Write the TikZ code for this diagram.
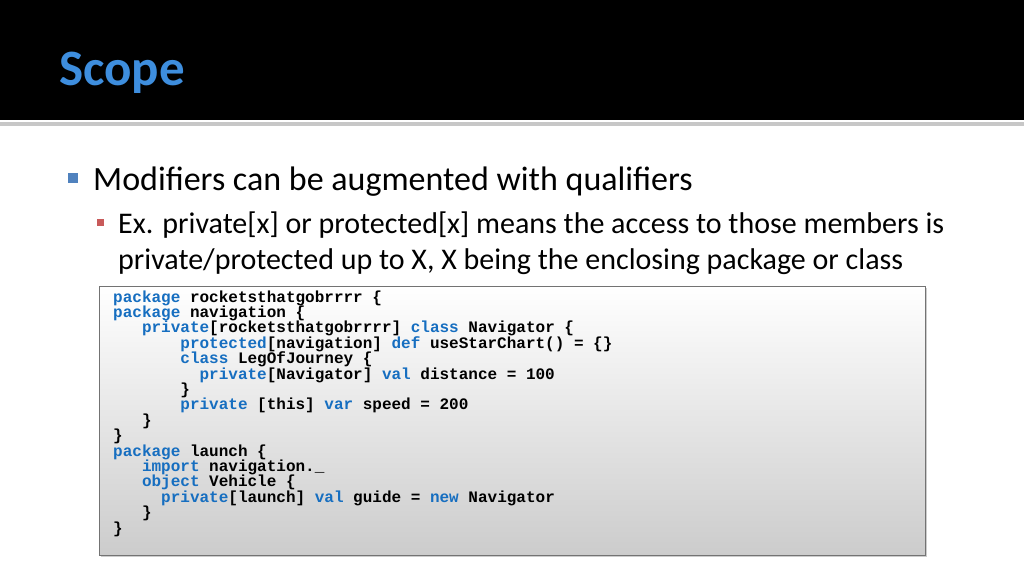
\documentclass[tikz,border=0pt]{standalone}
\usepackage{fontspec}
\setmainfont{Carlito}
\newfontfamily\codefont{Liberation Mono}
\usetikzlibrary{shadows}
\definecolor{ttl}{RGB}{62,142,222}
\definecolor{kw}{RGB}{22,110,192}
\definecolor{bl}{RGB}{80,130,190}
\definecolor{sb}{RGB}{200,90,90}
\newcommand{\kw}[1]{\textcolor{kw}{#1}}
\begin{document}
\begin{tikzpicture}[x=1pt,y=-1pt,
  codeline/.style={anchor=base west,inner sep=0pt,font=\codefont\bfseries\fontsize{16}{16}\selectfont}]
\useasboundingbox (0,0) rectangle (1024,576);
\fill[white] (0,0) rectangle (1024,576);
\fill[black] (0,0) rectangle (1024,120);
\fill[black!22] (0,122) rectangle (1024,126);
\node[anchor=base west,inner sep=0pt,text=ttl,font=\bfseries\fontsize{51}{51}\selectfont] (title) at (59,85) {Scope};
\fill[bl] (68,173) rectangle (78,183);
\node[anchor=base west,inner sep=0pt,font=\fontsize{34}{34}\selectfont] (b1) at (93,190) {Modifiers can be augmented with qualifiers};
\fill[sb] (97,219) rectangle (104,226);
\node[anchor=base west,inner sep=0pt,font=\fontsize{30}{30}\selectfont] (b2) at (118,233) {Ex. private[x] or protected[x] means the access to those members is};
\node[anchor=base west,inner sep=0pt,font=\fontsize{30}{30}\selectfont] (b3) at (118,269) {private/protected up to X, X being the enclosing package or class};
\shade[top color=white,bottom color=black!20,drop shadow={shadow xshift=2pt,shadow yshift=-2pt,opacity=0.4}] (99,286) rectangle (925,555);
\draw[black!55,line width=1pt] (99,286) rectangle (925,555);
\def\cw{9.6}
\foreach \i/\n/\t in {
 0/0/{\kw{package} rocketsthatgobrrrr \{},
 1/0/{\kw{package} navigation \{},
 2/3/{\kw{private}[rocketsthatgobrrrr] \kw{class} Navigator \{},
 3/7/{\kw{protected}[navigation] \kw{def} useStarChart() = \{\}},
 4/7/{\kw{class} LegOfJourney \{},
 5/9/{\kw{private}[Navigator] \kw{val} distance = 100},
 6/7/{\}},
 7/7/{\kw{private} [this] \kw{var} speed = 200},
 8/3/{\}},
 9/0/{\}},
 10/0/{\kw{package} launch \{},
 11/3/{\kw{import} navigation.\_},
 12/3/{\kw{object} Vehicle \{},
 13/5/{\kw{private}[launch] \kw{val} guide = \kw{new} Navigator},
 14/3/{\}},
 15/0/{\}}}
 \node[codeline] (c\i) at (113+\n*\cw, 302+\i*15.4) {\t};
\end{tikzpicture}
\end{document}
